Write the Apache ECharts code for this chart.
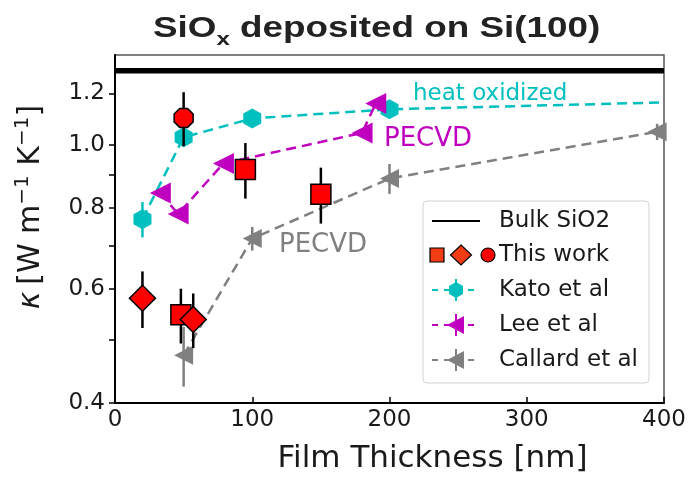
<!DOCTYPE html>
<html>
<head>
<meta charset="utf-8">
<script src="https://cdn.jsdelivr.net/npm/echarts@6/dist/echarts.min.js"></script>
<style>html,body{margin:0;padding:0;background:#fff}#c{width:694px;height:481px}</style>
</head>
<body>
<div id="c"></div>
<script>
// ---- data ----
const bulkX = [0, 400];
const bulkY = [1.30, 1.30];

const workSquareX = [48, 95, 150];
const workSquareY = [0.547, 0.916, 0.839];
const workSquareErr = [0.053, 0.09, 0.083];

const workDiamondX = [20, 57];
const workDiamondY = [0.580, 0.538];
const workDiamondErr = [0.058, 0.052];

const workCircleX = [50];
const workCircleY = [1.10];
const workCircleErr = [0.105];

const katoX = [20, 50, 100, 200, 400];
const katoY = [0.768, 1.027, 1.098, 1.134, 1.162];
const katoErr = [0.048, 0.03, 0.03, 0.02, 0];
const katoMarker = [true, true, true, true, false]; // last point lies at the frame, no marker visible

const leeX = [33, 46, 79, 180, 190];
const leeY = [0.843, 0.782, 0.936, 1.043, 1.158];
const leeErr = [0, 0, 0, 0, 0];

const callardX = [50, 100, 200, 395];
const callardY = [0.474, 0.717, 0.887, 1.047];
const callardErr = [0.05, 0.03, 0.047, 0.03];

const yTicks = [0.4, 0.5, 0.6, 0.7, 0.8, 0.9, 1.0, 1.2];
const yLabels = [0.4, 0.6, 0.8, 1.0, 1.2];
const xTicks = [0, 100, 200, 300, 400];

// ---- helpers ----
const pts = (xs, ys) => xs.map((x, i) => [x, ys[i]]);
const errPts = (xs, ys, es) => xs.map((x, i) => [x, ys[i] - es[i], ys[i] + es[i]]).filter((d, i) => es[i] > 0);
function errSeries(name, data, color, width, z) {
  return {
    type: 'custom', name: name, data: data, z: z, clip: false, silent: true,
    encode: { x: 0, y: [1, 2] },
    renderItem: function (params, api) {
      const p1 = api.coord([api.value(0), api.value(1)]);
      const p2 = api.coord([api.value(0), api.value(2)]);
      return { type: 'line', shape: { x1: p1[0], y1: p1[1], x2: p2[0], y2: p2[1] },
               style: { stroke: color, lineWidth: width } };
    }
  };
}
const HEX = 'path://M0,-1L0.866,-0.5L0.866,0.5L0,1L-0.866,0.5L-0.866,-0.5Z';
const OCT = 'path://M-0.414,-1L0.414,-1L1,-0.414L1,0.414L0.414,1L-0.414,1L-1,0.414L-1,-0.414Z';
const LTRI = 'path://M-1,0L0.9,-1L0.9,1Z';

const CYAN = '#00bfbf', MAG = '#bf00bf', GRAY = '#808080', RED = '#ff0000';
const FONT = 'DejaVu Sans';

const chart = echarts.init(document.getElementById('c'), null, { renderer: 'canvas' });

// legend drawn as graphic
const LX = 456;
function legRow(y, color, shape) {
  const els = [
    { type: 'line', shape: { x1: 432, y1: y, x2: 480, y2: y }, style: { stroke: color, lineWidth: 2, lineDash: [6, 6] } },
    { type: 'line', shape: { x1: LX, y1: y - 11, x2: LX, y2: y + 11 }, style: { stroke: color, lineWidth: 2 } }
  ];
  els.push(shape);
  return els;
}
const legendEls = [
  { type: 'rect', shape: { x: 423, y: 201, width: 226, height: 182, r: 4 }, style: { fill: 'rgba(255,255,255,0.85)', stroke: '#d3d3d3', lineWidth: 1 } },
  { type: 'line', shape: { x1: 432, y1: 221, x2: 480, y2: 221 }, style: { stroke: '#000', lineWidth: 2 } },
  { type: 'rect', shape: { x: 430, y: 248, width: 14, height: 14 }, style: { fill: '#f23c14', stroke: '#000', lineWidth: 1.2 } },
  { type: 'polygon', shape: { points: [[461, 245], [471.5, 255], [461, 265], [450.5, 255]] }, style: { fill: '#f23c14', stroke: '#000', lineWidth: 1.2 } },
  { type: 'circle', shape: { cx: 488, cy: 255, r: 7 }, style: { fill: RED, stroke: '#000', lineWidth: 1.2 } },
  ...legRow(290, CYAN, { type: 'polygon', shape: { points: [[LX, 282], [LX + 7, 286], [LX + 7, 294], [LX, 298], [LX - 7, 294], [LX - 7, 286]] }, style: { fill: CYAN } }),
  ...legRow(325, MAG, { type: 'polygon', shape: { points: [[LX - 9, 325], [LX + 8, 316], [LX + 8, 334]] }, style: { fill: MAG } }),
  ...legRow(360, GRAY, { type: 'polygon', shape: { points: [[LX - 9, 360], [LX + 8, 351], [LX + 8, 369]] }, style: { fill: GRAY } })
];
const legendTexts = [['Bulk SiO2', 221], ['This work', 255], ['Kato et al', 290], ['Lee et al', 325], ['Callard et al', 360]]
  .map(t => ({ type: 'text', x: 499, y: t[1], style: { text: t[0], fill: '#1a1a1a', font: '23px ' + FONT, verticalAlign: 'middle', textAlign: 'left' } }));

const markerStyle = { color: RED, borderColor: '#000', borderWidth: 1.5, opacity: 1 };

const option = {
  backgroundColor: '#fff',
  animation: false,
  grid: { left: 115, right: 30, top: 55, bottom: 78, show: true, borderColor: '#555', borderWidth: 1.5, containLabel: false },
  xAxis: {
    type: 'value', min: 0, max: 400, interval: 100,
    name: 'Film Thickness [nm]', nameLocation: 'middle', nameGap: 40,
    nameTextStyle: { fontFamily: FONT, fontSize: 31, color: '#1a1a1a', padding: [0, 0, 0, 86] },
    axisLine: { lineStyle: { color: '#000', width: 2 } },
    axisTick: { inside: true, length: 6, lineStyle: { color: '#000', width: 1.5 } },
    axisLabel: { fontFamily: FONT, fontSize: 23, color: '#1a1a1a', margin: 6 },
    splitLine: { show: false }
  },
  yAxis: {
    type: 'log', logBase: 10, min: 0.4, max: 1.375,
    name: '{k|κ}  {n|[W m}{s|−1}{n| K}{s|−1}{n|]}', nameLocation: 'middle', nameGap: 66,
    nameTextStyle: { padding: [0, 0, 0, 44], rich: {
      k: { fontFamily: FONT, fontSize: 30, fontStyle: 'italic', color: '#1a1a1a' },
      n: { fontFamily: FONT, fontSize: 30, color: '#1a1a1a', lineHeight: 36 },
      s: { fontFamily: FONT, fontSize: 20, color: '#1a1a1a', verticalAlign: 'top', lineHeight: 36 }
    } },
    axisLine: { show: true, lineStyle: { color: '#000', width: 2 } },
    axisTick: { show: true, inside: false, length: 6, customValues: yTicks, lineStyle: { color: '#000', width: 1.5 } },
    axisLabel: { fontFamily: FONT, fontSize: 23, color: '#1a1a1a', margin: 10, customValues: yLabels, formatter: v => Number(v).toFixed(1) },
    minorTick: { show: false },
    splitLine: { show: false }
  },
  graphic: [
    { type: 'text', x: 153, y: 29, scaleX: 1.27, scaleY: 1, style: { text: '{a|SiO}{s|x}{a| deposited on Si(100)}', rich: {
        a: { font: 'bold 29px "Liberation Sans", Arial, sans-serif', fill: '#222' },
        s: { font: 'bold 19px "Liberation Sans", Arial, sans-serif', fill: '#222', verticalAlign: 'bottom', padding: [0, 0, -6, 0] }
      }, verticalAlign: 'middle', textAlign: 'left' } },
    { type: 'text', x: 413, y: 94, style: { text: 'heat oxidized', fill: CYAN, font: '23px ' + FONT, verticalAlign: 'middle' }, z: 20 },
    { type: 'text', x: 384, y: 139, style: { text: 'PECVD', fill: MAG, font: '26px ' + FONT, verticalAlign: 'middle' }, z: 20 },
    { type: 'text', x: 279, y: 245, style: { text: 'PECVD', fill: GRAY, font: '26px ' + FONT, verticalAlign: 'middle' }, z: 20 },
    { type: 'group', z: 100, children: legendEls.concat(legendTexts) }
  ],
  series: [
    { type: 'line', name: 'Bulk SiO2', data: pts(bulkX, bulkY), symbol: 'none', lineStyle: { color: '#000', width: 5.5 }, z: 2 },
    errSeries('Kato err', errPts(katoX, katoY, katoErr), CYAN, 2.5, 3),
    { type: 'line', name: 'Kato et al', z: 3,
      data: katoX.map((x, i) => katoMarker[i] ? [x, katoY[i]] : { value: [x, katoY[i]], symbol: 'none' }),
      symbol: HEX, symbolSize: [18, 20], itemStyle: { color: CYAN, opacity: 1 }, lineStyle: { color: CYAN, width: 2.5, type: [10, 6] } },
    errSeries('Lee err', errPts(leeX, leeY, leeErr), MAG, 2.5, 4),
    { type: 'line', name: 'Lee et al', z: 4, data: pts(leeX, leeY),
      symbol: LTRI, symbolSize: 21, itemStyle: { color: MAG, opacity: 1 }, lineStyle: { color: MAG, width: 2.5, type: [10, 6] } },
    errSeries('Callard err', errPts(callardX, callardY, callardErr), GRAY, 2.5, 5),
    { type: 'line', name: 'Callard et al', z: 5, data: pts(callardX, callardY),
      symbol: LTRI, symbolSize: 19, itemStyle: { color: GRAY, opacity: 1 }, lineStyle: { color: GRAY, width: 2.5, type: [10, 6] } },
    errSeries('work err', errPts(workSquareX, workSquareY, workSquareErr)
      .concat(errPts(workDiamondX, workDiamondY, workDiamondErr))
      .concat(errPts(workCircleX, workCircleY, workCircleErr)), '#000', 2.5, 6),
    { type: 'scatter', name: 'This work', z: 7, data: pts(workSquareX, workSquareY), symbol: 'rect', symbolSize: 20,
      itemStyle: markerStyle },
    { type: 'scatter', name: 'This work', z: 7, data: pts(workDiamondX, workDiamondY), symbol: 'diamond', symbolSize: 26,
      itemStyle: markerStyle },
    { type: 'scatter', name: 'This work', z: 7, data: pts(workCircleX, workCircleY), symbol: OCT, symbolSize: 19,
      itemStyle: markerStyle }
  ]
};
chart.setOption(option);
</script>
</body>
</html>
